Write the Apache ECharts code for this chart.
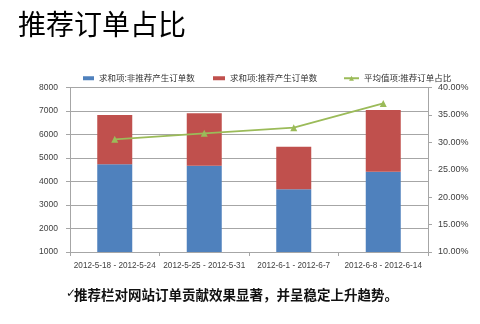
<!DOCTYPE html>
<html><head><meta charset="utf-8">
<script src="https://cdn.jsdelivr.net/npm/echarts@6/dist/echarts.min.js"></script>
<style>html,body{margin:0;padding:0;background:#fff}#c{width:480px;height:324px}</style>
</head><body><div id="c"></div>
<script>
var categories = ['2012-5-18 - 2012-5-24','2012-5-25 - 2012-5-31','2012-6-1 - 2012-6-7','2012-6-8 - 2012-6-14'];
var nonRecOrders = [4730, 4670, 3670, 4420];
var recOrders = [2100, 2230, 1810, 2620];
var recRatio = [30.55, 31.65, 32.67, 37.1];
var seriesNames = ['求和项:非推荐产生订单数','求和项:推荐产生订单数','平均值项:推荐订单占比'];
var titleText = '推荐订单占比';
var footText = '推荐栏对网站订单贡献效果显著，并呈稳定上升趋势。';

var chart = echarts.init(document.getElementById('c'));
var cjk = '"Noto Sans CJK SC", "Noto Sans", sans-serif';
var lat = '"Liberation Sans", Arial, sans-serif';
var gridColor = '#a6a6a6';
var labelColor = '#404040';
function leg(name, left, w, h, icon) {
  var d = {name: name};
  if (icon) d.icon = icon;
  return {data: [d], left: left, top: 69, itemWidth: w, itemHeight: h, itemGap: 0,
    textStyle: {fontSize: 8.5, color: '#333', fontFamily: cjk}};
}
chart.setOption({
  animation: false,
  backgroundColor: '#fff',
  title: {text: titleText, left: 13, top: 5,
    textStyle: {fontSize: 28, fontWeight: 'normal', color: '#000', fontFamily: cjk}},
  legend: [leg(seriesNames[0], 78, 11, 4, 'rect'), leg(seriesNames[1], 208, 12, 4, 'rect'), leg(seriesNames[2], 338, 15, 6)],
  grid: {left: 70, right: 52, top: 87.5, bottom: 72, containLabel: false},
  xAxis: {type: 'category', data: categories,
    axisLine: {lineStyle: {color: gridColor}},
    axisTick: {show: true, length: 4, lineStyle: {color: gridColor}},
    axisLabel: {fontSize: 8.2, color: labelColor, fontFamily: lat, margin: 10, interval: 0}},
  yAxis: [
    {type: 'value', min: 1000, max: 8000, interval: 1000,
      axisLine: {show: true, lineStyle: {color: gridColor}},
      axisTick: {show: true, length: 4, lineStyle: {color: gridColor}},
      splitLine: {lineStyle: {color: gridColor}},
      axisLabel: {fontSize: 8.5, color: labelColor, fontFamily: lat, margin: 12,
        formatter: function (v) { return String(v); }}},
    {type: 'value', min: 10, max: 40, interval: 5, position: 'right',
      axisLine: {show: true, lineStyle: {color: gridColor}},
      axisTick: {show: true, length: 4, lineStyle: {color: gridColor}},
      splitLine: {show: false},
      axisLabel: {fontSize: 9, color: labelColor, fontFamily: lat, margin: 10,
        formatter: function (v) { return v.toFixed(2) + '%'; }}}
  ],
  series: [
    {name: seriesNames[0], type: 'bar', stack: 'o', data: nonRecOrders, barWidth: 35,
      itemStyle: {color: '#4F81BD'}},
    {name: seriesNames[1], type: 'bar', stack: 'o', data: recOrders, barWidth: 35,
      itemStyle: {color: '#C0504D'}},
    {name: seriesNames[2], type: 'line', yAxisIndex: 1, data: recRatio,
      symbol: 'triangle', symbolSize: 7,
      lineStyle: {color: '#9BBB59', width: 1.8},
      itemStyle: {color: '#9BBB59'}}
  ],
  graphic: [
    {type: 'text', left: 66, top: 288, style: {text: '✓', fill: '#111', font: 'bold 12px "DejaVu Sans"'}},
    {type: 'text', left: 74, top: 288, style: {text: footText, fill: '#111',
      font: 'bold 13.5px "Noto Sans CJK SC"'}}
  ]
});
</script></body></html>
